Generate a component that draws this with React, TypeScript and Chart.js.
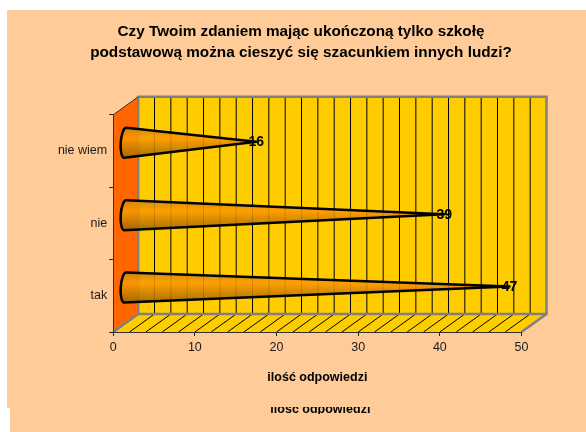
import React, { useEffect, useRef } from "react";
import { Chart, registerables } from "chart.js";

Chart.register(...registerables);

const categories = ["nie wiem", "nie", "tak"];
const values = [16, 39, 47];
const titleLines = [
  "Czy Twoim zdaniem mając ukończoną tylko szkołę",
  "podstawową można cieszyć się szacunkiem innych ludzi?",
];
const axisTitle = "ilość odpowiedzi";
const FONT = "'Liberation Sans', Arial, sans-serif";
const DX = 25;
const DY = -18;

const scenePlugin = {
  id: "scene",
  afterLayout(chart: any) {
    // the category labels are wider than the fitted box: widen the area they may use
    chart.scales.y.left = 0;
  },
  beforeDraw(chart: any) {
    const { ctx, chartArea: a, scales } = chart;
    const xs = scales.x;
    ctx.save();
    ctx.fillStyle = "#FFCC99";
    ctx.fillRect(7, 10, 579, 398);
    ctx.fillRect(10, 408, 576, 24);

    // back wall
    ctx.fillStyle = "#FFCC00";
    ctx.fillRect(a.left + DX, a.top + DY, a.right - a.left, a.bottom - a.top);
    // floor
    ctx.beginPath();
    ctx.moveTo(a.left, a.bottom);
    ctx.lineTo(a.left + DX, a.bottom + DY);
    ctx.lineTo(a.right + DX, a.bottom + DY);
    ctx.lineTo(a.right, a.bottom);
    ctx.closePath();
    ctx.fill();
    // side wall
    ctx.fillStyle = "#FF6600";
    ctx.beginPath();
    ctx.moveTo(a.left, a.top);
    ctx.lineTo(a.left + DX, a.top + DY);
    ctx.lineTo(a.left + DX, a.bottom + DY);
    ctx.lineTo(a.left, a.bottom);
    ctx.closePath();
    ctx.fill();

    // grid and floor hatch
    ctx.strokeStyle = "#000000";
    ctx.lineWidth = 1;
    for (let v = 2; v < 50; v += 2) {
      const px = xs.getPixelForValue(v);
      ctx.beginPath();
      ctx.moveTo(px + DX, a.top + DY);
      ctx.lineTo(px + DX, a.bottom + DY);
      ctx.stroke();
    }
    for (let v = 2; v < 50; v += 2) {
      const px = xs.getPixelForValue(v);
      ctx.beginPath();
      ctx.moveTo(px, a.bottom);
      ctx.lineTo(px + DX, a.bottom + DY);
      ctx.stroke();
    }

    // grey wall frame
    ctx.strokeStyle = "#808080";
    ctx.lineWidth = 2.5;
    ctx.lineJoin = "miter";
    ctx.beginPath();
    ctx.rect(a.left + DX, a.top + DY, a.right - a.left, a.bottom - a.top);
    ctx.moveTo(a.left, a.bottom);
    ctx.lineTo(a.left + DX, a.bottom + DY);
    ctx.moveTo(a.right, a.bottom);
    ctx.lineTo(a.right + DX, a.bottom + DY);
    ctx.stroke();
    ctx.strokeStyle = "#333333";
    ctx.lineWidth = 1;
    ctx.beginPath();
    ctx.moveTo(a.left, a.top);
    ctx.lineTo(a.left + DX, a.top + DY);
    ctx.stroke();

    // clipped repeat of the axis title
    ctx.save();
    ctx.beginPath();
    ctx.rect(0, 407, 586, 7);
    ctx.clip();
    ctx.fillStyle = "#000000";
    ctx.font = `bold 12.5px ${FONT}`;
    ctx.textAlign = "center";
    ctx.textBaseline = "alphabetic";
    ctx.fillText(axisTitle, (a.left + a.right) / 2 + 3, 412.5);
    ctx.restore();
    ctx.restore();
  },
  afterDatasetsDraw(chart: any) {
    const { ctx } = chart;
    const meta = chart.getDatasetMeta(0);
    ctx.save();
    meta.data.forEach((el: any, i: number) => {
      const cx = chart.chartArea.left + DX / 2 - 0.5;
      const cy = el.y + DY / 2 + 0.8;
      const tipX = el.x + DX / 2;
      const tipY = cy - 1;
      const ry = el.height / 2;
      const rx = 4.5;
      const rot = 0.07;
      const grad = ctx.createLinearGradient(0, cy - ry, 0, cy + ry);
      grad.addColorStop(0, "#C98A10");
      grad.addColorStop(0.35, "#FF9900");
      grad.addColorStop(1, "#996600");
      ctx.beginPath();
      ctx.moveTo(tipX, tipY);
      ctx.ellipse(cx, cy, rx, ry, rot, -Math.PI / 2, Math.PI / 2, true);
      ctx.closePath();
      ctx.globalAlpha = 0.88;
      ctx.fillStyle = grad;
      ctx.fill();
      ctx.globalAlpha = 1;
      ctx.strokeStyle = "#000000";
      ctx.lineWidth = 2.5;
      ctx.lineJoin = "round";
      ctx.stroke();
    });
    ctx.fillStyle = "#000000";
    ctx.font = `bold 14px ${FONT}`;
    ctx.textAlign = "center";
    ctx.textBaseline = "middle";
    meta.data.forEach((el: any, i: number) => {
      ctx.fillText(String(values[i]), el.x + DX / 2, el.y + DY / 2 + 0.5);
    });
    ctx.restore();
  },
};

export default function App() {
  const ref = useRef<HTMLCanvasElement | null>(null);
  useEffect(() => {
    const chart = new Chart(ref.current as HTMLCanvasElement, {
      type: "bar",
      data: {
        labels: categories,
        datasets: [
          {
            data: values,
            backgroundColor: "rgba(0,0,0,0)",
            borderWidth: 0,
            categoryPercentage: 1,
            barPercentage: 0.415,
          },
        ],
      },
      options: {
        indexAxis: "y",
        animation: false,
        responsive: false,
        layout: { padding: { left: 80.5, right: 64.5, top: 0, bottom: 0 } },
        plugins: {
          legend: { display: false },
          tooltip: { enabled: false },
          title: {
            display: true,
            text: titleLines,
            color: "#000000",
            font: { family: FONT, size: 15.3, weight: "bold", lineHeight: 1.4 },
            padding: { top: 21, bottom: 51 },
          },
        },
        scales: {
          x: {
            type: "linear",
            min: 0,
            max: 50,
            afterFit: (s: any) => {
              s.height = 100;
            },
            ticks: {
              stepSize: 10,
              maxRotation: 0,
              color: "#1a1a1a",
              padding: 4,
              font: { family: FONT, size: 12.5 },
            },
            grid: { drawOnChartArea: false, drawTicks: true, tickLength: 4, color: "#222222" },
            border: { color: "#333333", width: 1 },
            title: {
              display: true,
              text: axisTitle,
              color: "#000000",
              font: { family: FONT, size: 12.5, weight: "bold" },
              padding: { top: 0, bottom: 47 },
            },
          },
          y: {
            type: "category",
            afterFit: (s: any) => {
              s.width = 32.7;
            },
            ticks: {
              color: "#1a1a1a",
              padding: 2,
              font: { family: FONT, size: 12.5 },
            },
            grid: { drawOnChartArea: false, drawTicks: true, tickLength: 4, color: "#222222" },
            border: { color: "#333333", width: 1 },
          },
        },
      },
      plugins: [scenePlugin],
    } as any);
    return () => chart.destroy();
  }, []);
  return (
    <div style={{ position: "fixed", left: 0, top: 0, width: 586, height: 432 }}>
      <canvas ref={ref} width={586} height={432} style={{ display: "block" }} />
    </div>
  );
}
